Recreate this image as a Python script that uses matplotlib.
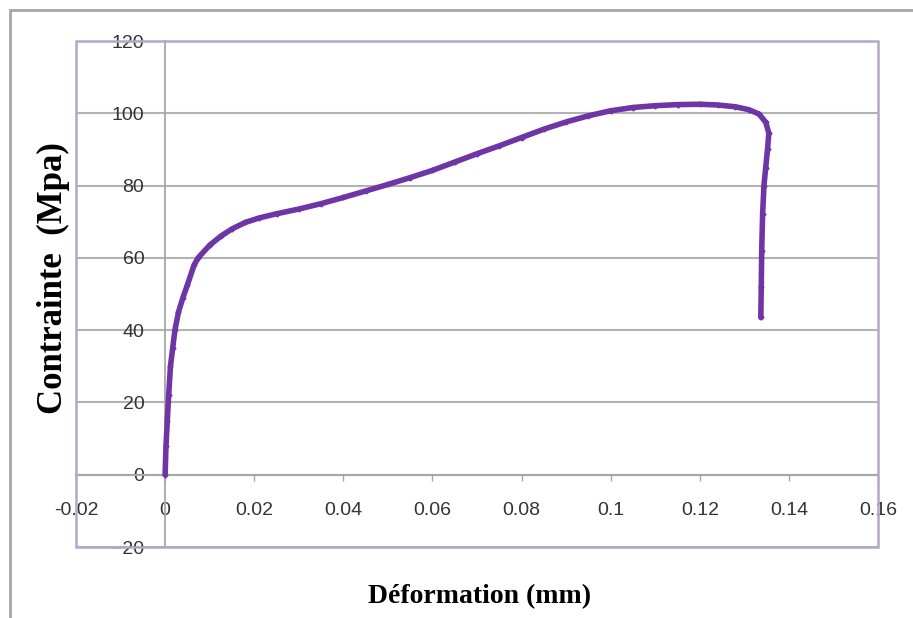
import numpy as np
import matplotlib.pyplot as plt
from matplotlib.patches import Rectangle

# stress-strain curve
strain = [0, 0.0002, 0.0005, 0.0008, 0.0012, 0.0017, 0.0022, 0.003, 0.004,
          0.005, 0.0065, 0.0074, 0.01, 0.0125, 0.015, 0.018, 0.021, 0.025,
          0.03, 0.035, 0.04, 0.045, 0.05, 0.055, 0.06, 0.065, 0.07, 0.075,
          0.08, 0.085, 0.09, 0.095, 0.1, 0.105, 0.11, 0.115, 0.12, 0.124,
          0.128, 0.131, 0.1333, 0.1348, 0.1355, 0.1352, 0.1348, 0.1344,
          0.1341, 0.1339, 0.1338, 0.1337]
stress = [0, 8, 15, 22, 30, 35, 40, 45, 49,
          52.5, 58, 60, 63.5, 66, 68, 69.8, 71, 72.2,
          73.5, 75, 76.7, 78.5, 80.3, 82.2, 84.2, 86.5, 88.8, 91,
          93.3, 95.6, 97.6, 99.3, 100.7, 101.6, 102.1, 102.4, 102.5, 102.3,
          101.8, 101, 99.8, 97.5, 94.5, 90, 85, 80,
          72, 62, 52, 43.5]

x_ticks = [-0.02, 0, 0.02, 0.04, 0.06, 0.08, 0.1, 0.12, 0.14, 0.16]
x_labels = ['-0.02', '0', '0.02', '0.04', '0.06', '0.08', '0.1', '0.12', '0.14', '0.16']
y_ticks = [-20, 0, 20, 40, 60, 80, 100, 120]

fig = plt.figure(figsize=(9.13, 6.18), dpi=100)
ax = fig.add_axes([76 / 913, 1 - 547 / 618, 802 / 913, 506 / 618])

# outer chart border
fig.patches.append(Rectangle((10 / 913, -0.1), 1.2, 1 - 10 / 618 + 0.1,
                             transform=fig.transFigure, fill=False,
                             edgecolor='#a6a6a6', lw=2))

ax.plot(strain, stress, color='#6d35a6', lw=4, marker='D', ms=2.5,
        solid_capstyle='round', zorder=3)

ax.set_xlim(-0.02, 0.16)
ax.set_ylim(-20, 120)
ax.set_xticks(x_ticks)
ax.set_xticklabels(x_labels)
ax.set_yticks(y_ticks)

ax.grid(axis='y', color='#b3b3b3', lw=1.5)
ax.set_axisbelow(True)

# axes cross at zero like in Excel
ax.spines['left'].set_position(('data', 0))
ax.spines['bottom'].set_position(('data', 0))
ax.spines['left'].set_color('#a6a6a6')
ax.spines['bottom'].set_color('#a6a6a6')
ax.spines['left'].set_linewidth(1.3)
ax.spines['bottom'].set_linewidth(1.5)
ax.spines['top'].set_visible(False)
ax.spines['right'].set_visible(False)
ax.add_patch(Rectangle((0, 0), 1, 1, transform=ax.transAxes, fill=False,
                       edgecolor='#b3a6c9', lw=1.8, clip_on=False, zorder=4))

ax.tick_params(axis='x', length=4, width=1, color='#a6a6a6', pad=16,
               labelsize=14, labelcolor='#333333')
ax.tick_params(axis='y', length=0, pad=15, labelsize=14, labelcolor='#333333')
for lab in ax.get_xticklabels() + ax.get_yticklabels():
    lab.set_family('Liberation Sans')

fig.text(480 / 913, 1 - 597 / 618, 'Déformation (mm)', ha='center', va='center',
         family='Liberation Serif', weight='bold', fontsize=20)
fig.text(53 / 913, 1 - 278 / 618, 'Contrainte  (Mpa)', ha='center', va='center',
         rotation=90, family='Liberation Serif', weight='bold', fontsize=25)

fig.savefig('out.png', dpi=100)
